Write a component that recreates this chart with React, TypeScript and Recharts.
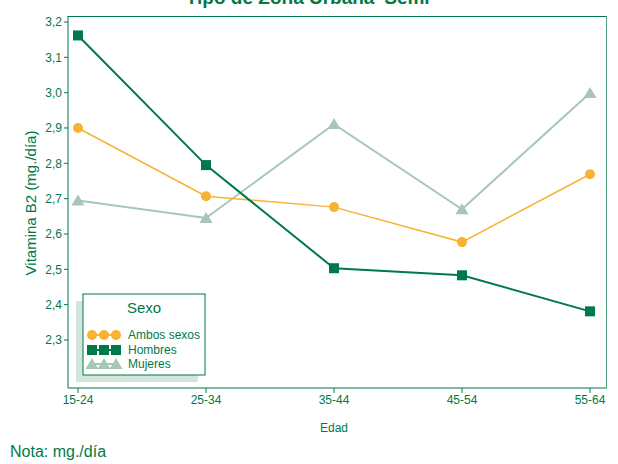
import React from "react";
import { LineChart, Line, XAxis, YAxis } from "recharts";

const AGES = ["15-24", "25-34", "35-44", "45-54", "55-64"];
const AMBOS = [2.9, 2.707, 2.676, 2.577, 2.769];
const HOMBRES = [3.162, 2.795, 2.503, 2.483, 2.381];
const MUJERES = [2.695, 2.645, 2.911, 2.67, 2.999];
const Y_TICKS = [2.3, 2.4, 2.5, 2.6, 2.7, 2.8, 2.9, 3.0, 3.1, 3.2];

const GREEN = "#00794A";
const ORANGE = "#F9B233";
const LIGHT = "#A6C7B5";
const FONT = "'Liberation Sans Narrow', 'Liberation Sans', Arial, sans-serif";

const data = AGES.map((age, i) => ({
  age,
  ambos: AMBOS[i],
  hombres: HOMBRES[i],
  mujeres: MUJERES[i],
}));

const CircleDot = (p: any) => (
  <circle key={`c-${p.index}`} cx={p.cx} cy={p.cy} r={5} fill={ORANGE} />
);
const SquareDot = (p: any) => (
  <rect key={`s-${p.index}`} x={p.cx - 5} y={p.cy - 5} width={10} height={10} fill={GREEN} />
);
const TriDot = (p: any) => (
  <polygon
    key={`t-${p.index}`}
    points={`${p.cx},${p.cy - 6} ${p.cx + 6.5},${p.cy + 5} ${p.cx - 6.5},${p.cy + 5}`}
    fill={LIGHT}
  />
);

function LegendRow({ kind, label, y }: { kind: string; label: string; y: number }) {
  const xs = [4, 16, 28];
  return (
    <g transform={`translate(0, ${y})`}>
      <line
        x1={4}
        x2={28}
        y1={0}
        y2={0}
        stroke={kind === "c" ? ORANGE : kind === "s" ? GREEN : LIGHT}
        strokeWidth={2}
      />
      {xs.map((x) =>
        kind === "c" ? (
          <circle key={x} cx={x} cy={0} r={5} fill={ORANGE} />
        ) : kind === "s" ? (
          <rect key={x} x={x - 5} y={-5} width={10} height={10} fill={GREEN} />
        ) : (
          <polygon key={x} points={`${x},-6 ${x + 6.5},5 ${x - 6.5},5`} fill={LIGHT} />
        )
      )}
      <text x={40} y={4} fontSize={12} fill={GREEN} fontFamily={FONT}>
        {label}
      </text>
    </g>
  );
}

export default function App() {
  return (
    <div style={{ position: "absolute", left: 0, top: 0, width: 618, height: 464, background: "#fff" }}>
      <LineChart
        width={618}
        height={464}
        data={data}
        margin={{ top: 16, right: 11, bottom: 46, left: 8 }}
      >
        <XAxis
          dataKey="age"
          padding={{ left: 10, right: 17 }}
          height={30}
          stroke={GREEN}
          tickSize={5}
          tick={{ fill: GREEN, fontSize: 12, fontFamily: FONT }}
        />
        <YAxis
          type="number"
          domain={[2.164, 3.217]}
          ticks={Y_TICKS}
          width={60}
          stroke={GREEN}
          tickSize={4}
          interval={0}
          allowDataOverflow
          tickFormatter={(v: number) => v.toFixed(1).replace(".", ",")}
          tick={{ fill: GREEN, fontSize: 12, fontFamily: FONT }}
        />
        <Line
          dataKey="mujeres"
          stroke={LIGHT}
          strokeWidth={2}
          dot={TriDot}
          activeDot={false}
          isAnimationActive={false}
        />
        <Line
          dataKey="ambos"
          stroke={ORANGE}
          strokeWidth={1.5}
          dot={CircleDot}
          activeDot={false}
          isAnimationActive={false}
        />
        <Line
          dataKey="hombres"
          stroke={GREEN}
          strokeWidth={2}
          dot={SquareDot}
          activeDot={false}
          isAnimationActive={false}
        />
      </LineChart>
      <svg
        width={618}
        height={464}
        style={{ position: "absolute", left: 0, top: 0, pointerEvents: "none" }}
      >
        <text
          x={310}
          y={4}
          textAnchor="middle"
          fontSize={19}
          fontWeight="bold"
          fill={GREEN}
          fontFamily={FONT}
        >
          Tipo de Zona Urbana 'Semi'
        </text>
        <line x1={68} x2={607} y1={16.5} y2={16.5} stroke={GREEN} strokeWidth={1} />
        <line x1={606.5} x2={606.5} y1={16} y2={388} stroke="#4E9C78" strokeWidth={1} />
        <text
          transform="translate(36, 203) rotate(-90)"
          textAnchor="middle"
          fontSize={15}
          fill={GREEN}
          fontFamily={FONT}
        >
          Vitamina B2 (mg./día)
        </text>
        <text x={334} y={432} textAnchor="middle" fontSize={12} fill={GREEN} fontFamily={FONT}>
          Edad
        </text>
        <text x={10} y={457} fontSize={16} fill={GREEN} fontFamily={FONT}>
          Nota: mg./día
        </text>
        <rect x={76} y={301} width={122} height={81} fill="#D4E5DB" />
        <rect x={83} y={294} width={122} height={81} fill="#fff" stroke={GREEN} strokeWidth={1} />
        <text x={144} y={313} textAnchor="middle" fontSize={15} fill={GREEN} fontFamily={FONT}>
          Sexo
        </text>
        <g transform="translate(88, 0)">
          <LegendRow kind="c" label="Ambos sexos" y={335} />
          <LegendRow kind="s" label="Hombres" y={350} />
          <LegendRow kind="t" label="Mujeres" y={364} />
        </g>
      </svg>
    </div>
  );
}
